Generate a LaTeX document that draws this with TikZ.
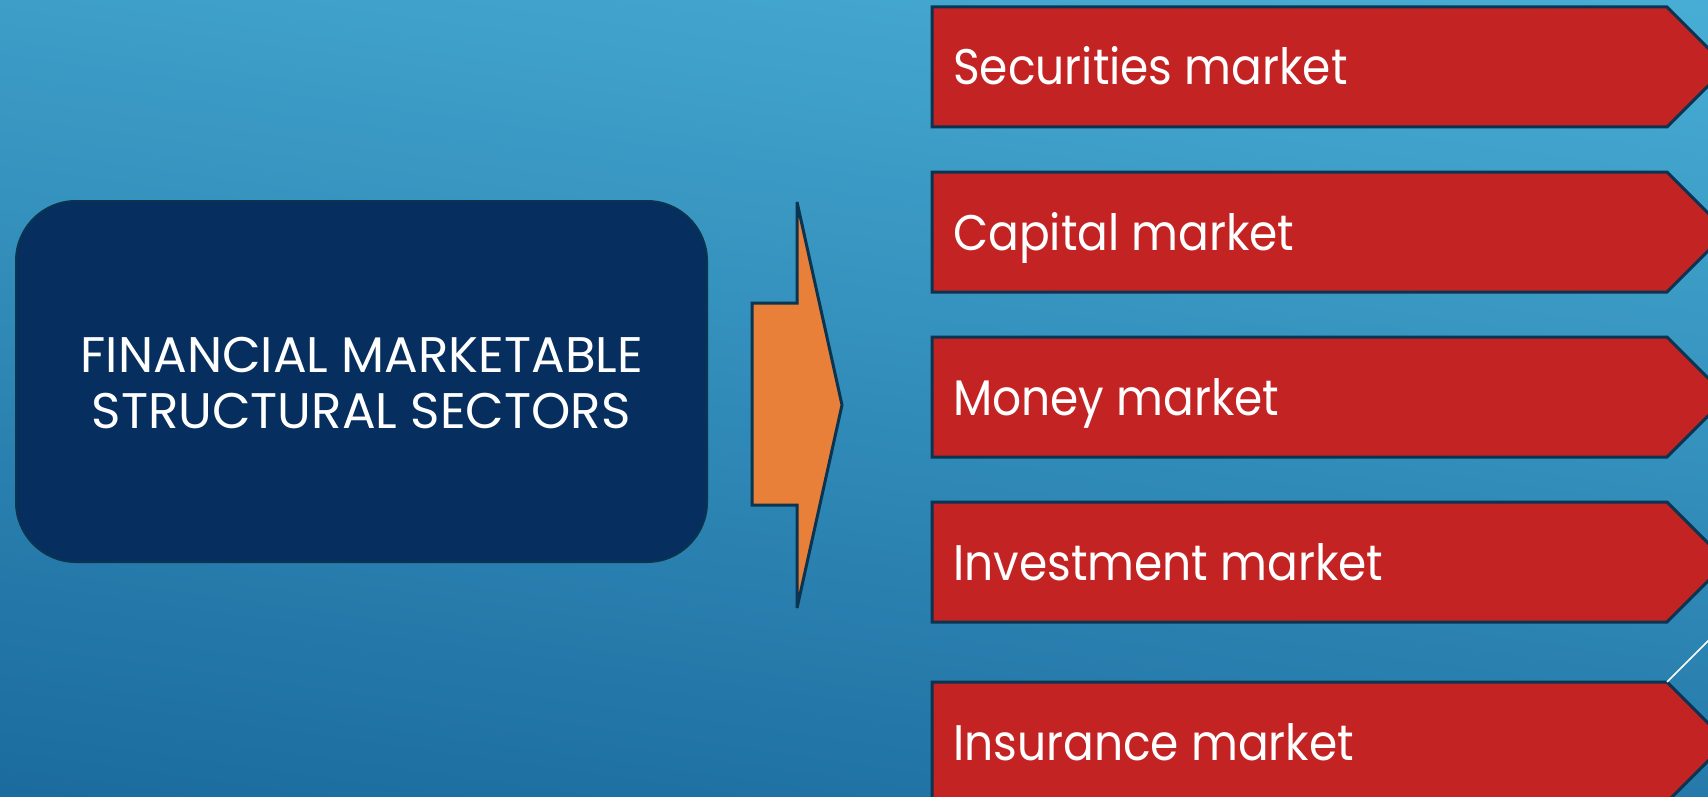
\documentclass[tikz,border=0pt]{standalone}
\usepackage{fontspec}
\setmainfont{Poppins}
\newfontfamily\lblfont{Poppins}[FakeStretch=0.91]
\definecolor{bgtop}{RGB}{74,176,214}
\definecolor{bgbot}{RGB}{25,104,156}
\definecolor{mred}{RGB}{196,35,36}
\definecolor{navy}{RGB}{6,46,94}
\definecolor{edge}{RGB}{10,52,80}
\definecolor{orng}{RGB}{232,128,58}
\begin{document}
\begin{tikzpicture}[x=1pt,y=-1pt,
  mkt/.style={fill=mred, draw=edge, line width=3pt, line join=miter},
  lbl/.style={text=white, font=\lblfont\fontsize{50}{58}\selectfont, inner sep=0pt, anchor=base west},
  ttl/.style={text=white, font=\fontsize{50}{58}\selectfont, inner sep=0pt, anchor=base},
  titlebox/.style={fill=navy, draw=edge, line width=2pt, rounded corners=60pt, minimum width=691pt, minimum height=361pt, inner sep=0pt},
  arr/.style={fill=orng, draw=edge, line width=3pt, line join=miter, miter limit=1.5}]
\useasboundingbox (0,0) rectangle (1708,797);
\clip (0,0) rectangle (1708,797);
\shade[top color=bgtop, bottom color=bgbot, shading angle=-8] (-100,-100) rectangle (1808,897);
% title box
\node[titlebox] (title) at (361.5,381.5) {};
\node[ttl] (t1) at (362,372) {FINANCIAL MARKETABLE};
\node[ttl] (t2) at (361,428) {STRUCTURAL SECTORS};
% arrow
\draw[arr] (752,303) -- (797,303) -- (797,202) -- (842,405) -- (797,608) -- (797,505) -- (752,505) -- cycle;
% market boxes
\foreach \y/\n/\t in {7/m1/Securities market,172/m2/Capital market,337/m3/Money market,502/m4/Investment market,682/m5/Insurance market}{
  \draw[mkt] (932,\y) -- (1667,\y) -- (1727,\y+60) -- (1667,\y+120) -- (932,\y+120) -- cycle;
  \node[lbl] (\n) at (953,\y+78) {\t};
}
\coordinate (wl) at (1667,682);
\coordinate (wr) at (1737,612);
\draw[white, line width=1.5pt] (wl) -- (wr);
\end{tikzpicture}
\end{document}
